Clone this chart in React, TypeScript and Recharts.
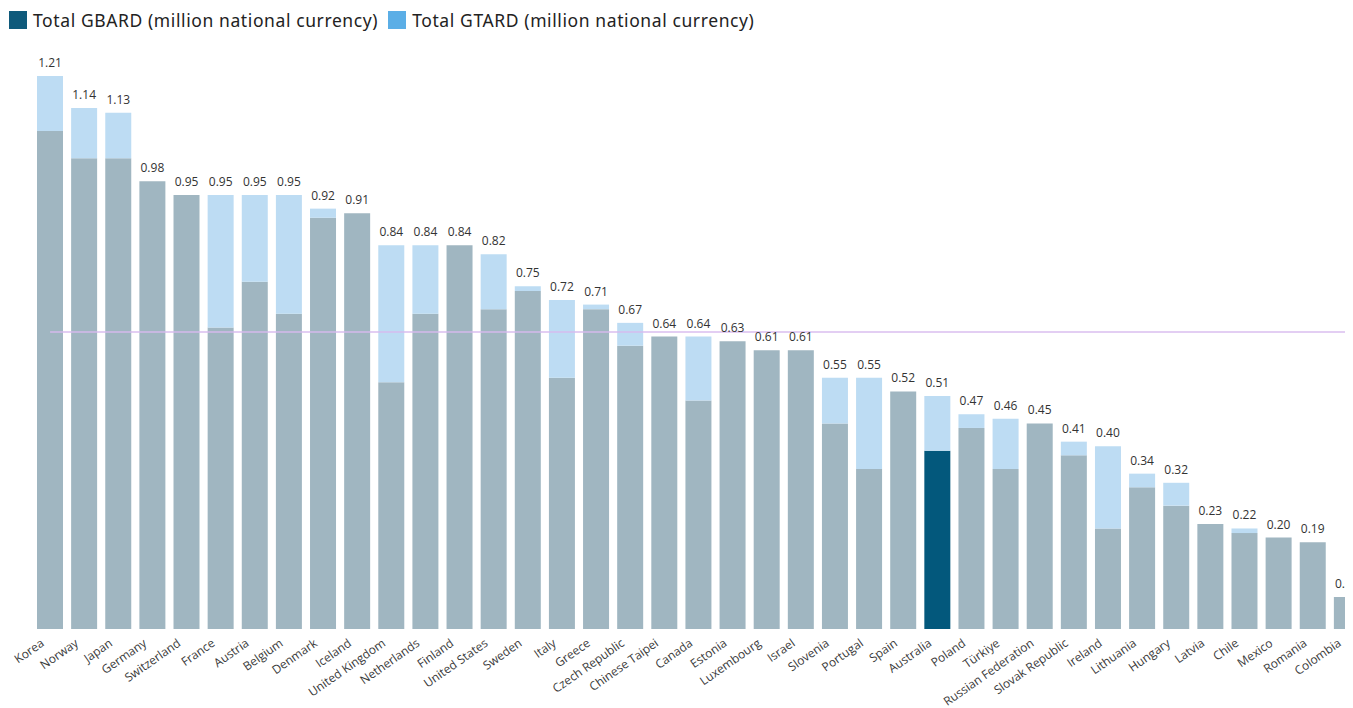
import React from "react"
import { BarChart, Bar, XAxis, YAxis, Cell, LabelList, ReferenceLine } from "recharts"

const countries = [
  "Korea", "Norway", "Japan", "Germany", "Switzerland", "France", "Austria", "Belgium",
  "Denmark", "Iceland", "United Kingdom", "Netherlands", "Finland", "United States",
  "Sweden", "Italy", "Greece", "Czech Republic", "Chinese Taipei", "Canada", "Estonia",
  "Luxembourg", "Israel", "Slovenia", "Portugal", "Spain", "Australia", "Poland",
  "Türkiye", "Russian Federation", "Slovak Republic", "Ireland", "Lithuania", "Hungary",
  "Latvia", "Chile", "Mexico", "Romania", "Colombia",
]

// total (GBARD + GTARD) as labelled above each bar
const totals = [
  1.21, 1.14, 1.13, 0.98, 0.95, 0.95, 0.95, 0.95, 0.92, 0.91, 0.84, 0.84, 0.84, 0.82,
  0.75, 0.72, 0.71, 0.67, 0.64, 0.64, 0.63, 0.61, 0.61, 0.55, 0.55, 0.52, 0.51, 0.47,
  0.46, 0.45, 0.41, 0.40, 0.34, 0.32, 0.23, 0.22, 0.20, 0.19, 0.07,
]

// GBARD part (lower segment)
const gbard = [
  1.09, 1.03, 1.03, 0.98, 0.95, 0.66, 0.76, 0.69, 0.90, 0.91, 0.54, 0.69, 0.84, 0.70,
  0.74, 0.55, 0.70, 0.62, 0.64, 0.50, 0.63, 0.61, 0.61, 0.45, 0.35, 0.52, 0.39, 0.44,
  0.35, 0.45, 0.38, 0.22, 0.31, 0.27, 0.23, 0.21, 0.20, 0.19, 0.07,
]

const average = 0.65
const highlight = "Australia"

const data = countries.map((name, i) => ({
  name,
  gbard: gbard[i],
  gtard: Math.max(0, +(totals[i] - gbard[i]).toFixed(2)),
  total: totals[i],
}))

const GREY = "#a0b6c1"
const LIGHT = "#bddcf3"
const DARK = "#03587c"
const labelStyle = { fontSize: 12, fontFamily: "'Open Sans', sans-serif", fill: "#333" }

function CountryTick({ x, y, payload }: any) {
  const ax = x - 5
  const ay = y + 8
  return (
    <text
      x={ax}
      y={ay}
      transform={`rotate(-35, ${ax}, ${ay})`}
      textAnchor="end"
      fontSize={12}
      fontFamily="'Open Sans', sans-serif"
      fill="#3a3a3a"
    >
      {payload.value}
    </text>
  )
}

// label for bars with no GTARD part (the zero-height top segment draws no label)
function BaseOnlyLabel({ x, y, width, index }: any) {
  const d = data[index]
  if (!d || d.gtard > 0) return null
  return (
    <text x={x + width / 2} y={y - 9} textAnchor="middle" {...labelStyle}>
      {d.total.toFixed(2)}
    </text>
  )
}

export default function App() {
  return (
    <div style={{ position: "relative", width: 1345, height: 700, overflow: "hidden", background: "#fff" }}>
      {/* legend */}
      <div
        style={{
          position: "absolute",
          top: 0,
          left: 1,
          display: "flex",
          alignItems: "center",
          fontFamily: "'Noto Sans', sans-serif",
          fontSize: 17.5,
          letterSpacing: 0.6,
          color: "#222",
          whiteSpace: "nowrap",
          zIndex: 2,
        }}
      >
        <span style={{ width: 18, height: 18, background: "#0f5a7b", display: "inline-block", marginRight: 6 }} />
        <span style={{ marginRight: 10 }}>Total GBARD (million national currency)</span>
        <span style={{ width: 18, height: 18, background: "#5baee6", display: "inline-block", marginRight: 6 }} />
        <span>Total GTARD (million national currency)</span>
      </div>

      <BarChart
        width={1356}
        height={700}
        data={data}
        margin={{ top: 27, right: 0, left: 25, bottom: 0 }}
      >
        <XAxis
          dataKey="name"
          interval={0}
          axisLine={false}
          tickLine={false}
          height={79}
          tick={<CountryTick />}
        />
        <YAxis hide domain={[0, 1.3]} />
        <Bar dataKey="gbard" stackId="a" fill={GREY} barSize={26} isAnimationActive={false}>
          {data.map((d) => (
            <Cell key={d.name} fill={d.name === highlight ? DARK : GREY} />
          ))}
          <LabelList dataKey="total" content={<BaseOnlyLabel />} />
        </Bar>
        <Bar dataKey="gtard" stackId="a" fill={LIGHT} barSize={26} isAnimationActive={false}>
          <LabelList
            dataKey="total"
            position="top"
            offset={9}
            formatter={(v: any) => Number(v).toFixed(2)}
            style={labelStyle}
          />
        </Bar>
        <ReferenceLine
          segment={[
            { x: countries[0], y: average },
            { x: countries[countries.length - 1], y: average },
          ]}
          stroke="#d7b9ee"
          strokeOpacity={0.7}
          strokeWidth={2}
        />
      </BarChart>
    </div>
  )
}
